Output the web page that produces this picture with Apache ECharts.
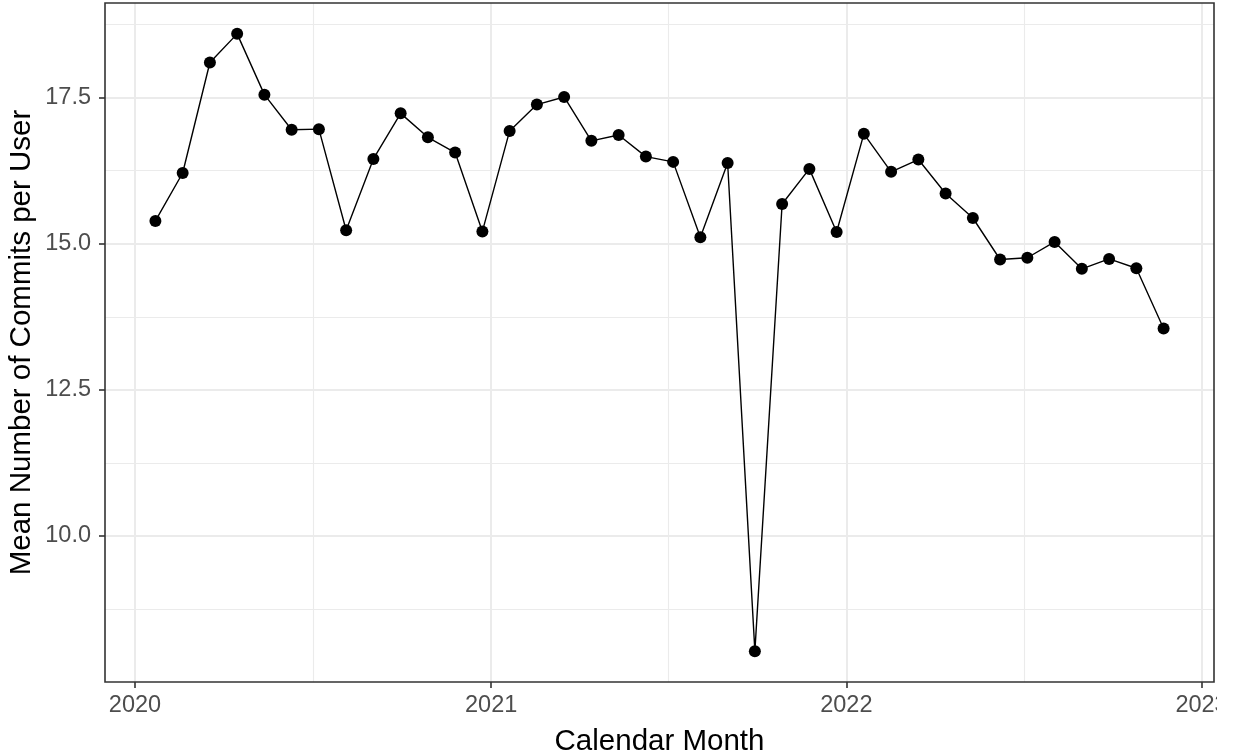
<!DOCTYPE html>
<html>
<head>
<meta charset="utf-8">
<script src="https://cdn.jsdelivr.net/npm/echarts@6/dist/echarts.min.js"></script>
<style>
html,body{margin:0;padding:0;background:#fff;}
#chart{width:1217px;height:753px;}
</style>
</head>
<body>
<div id="chart"></div>
<script>
// ---- data ----
const periodDates = [
  '2020-01-22','2020-02-19','2020-03-18','2020-04-15','2020-05-13','2020-06-10',
  '2020-07-08','2020-08-05','2020-09-02','2020-09-30','2020-10-28','2020-11-25',
  '2020-12-23','2021-01-20','2021-02-17','2021-03-17','2021-04-14','2021-05-12',
  '2021-06-09','2021-07-07','2021-08-04','2021-09-01','2021-09-29','2021-10-27',
  '2021-11-24','2021-12-22','2022-01-19','2022-02-16','2022-03-16','2022-04-13',
  '2022-05-11','2022-06-08','2022-07-06','2022-08-03','2022-08-31','2022-09-28',
  '2022-10-26','2022-11-23'
];
const meanCommits = [
  15.39,16.21,18.10,18.59,17.55,16.95,
  16.96,15.23,16.45,17.23,16.82,16.56,
  15.21,16.93,17.38,17.51,16.76,16.86,
  16.49,16.40,15.11,16.38,8.03,15.68,
  16.28,15.20,16.88,16.23,16.44,15.86,
  15.44,14.73,14.76,15.03,14.57,14.74,
  14.58,13.55
];
const xTickDates = ['2020-01-01','2021-01-01','2022-01-01','2023-01-01'];
const xMinorDates = ['2020-07-02T00:00:00Z','2021-07-02T12:00:00Z','2022-07-02T12:00:00Z'];
const yTicks = [10, 12.5, 15, 17.5];
const yMinor = [8.75, 11.25, 13.75, 16.25, 18.75];

// ---- scales (ggplot-like 5% expansion) ----
const xs = periodDates.map(d => Date.parse(d));
const xr = Math.max(...xs) - Math.min(...xs);
const xMin = Math.min(...xs) - 0.05 * xr;
const xMax = Math.max(...xs) + 0.05 * xr;
const yr = Math.max(...meanCommits) - Math.min(...meanCommits);
const yMin = Math.min(...meanCommits) - 0.05 * yr;
const yMax = Math.max(...meanCommits) + 0.05 * yr;

const xTickTs = xTickDates.map(d => Date.parse(d));
const xMinorTs = xMinorDates.map(d => Date.parse(d));

const GRID = '#EBEBEB';
const gridLines = [];
xTickTs.forEach(t => gridLines.push({xAxis: t, lineStyle: {color: GRID, width: 2, type: 'solid'}}));
xMinorTs.forEach(t => gridLines.push({xAxis: t, lineStyle: {color: GRID, width: 1.1, type: 'solid'}}));
yTicks.forEach(v => gridLines.push({yAxis: v, lineStyle: {color: GRID, width: 2, type: 'solid'}}));
yMinor.forEach(v => gridLines.push({yAxis: v, lineStyle: {color: GRID, width: 1.1, type: 'solid'}}));

const FONT = '"Liberation Sans", Arial, Helvetica, sans-serif';

const chart = echarts.init(document.getElementById('chart'), null, {renderer: 'canvas'});
chart.setOption({
  animation: false,
  backgroundColor: '#fff',
  textStyle: {fontFamily: FONT},
  grid: {
    left: 105, right: 3, top: 3, bottom: 71,
    show: true, borderColor: '#333333', borderWidth: 1.6,
    backgroundColor: 'transparent', z: 5,
    containLabel: false,
    outerBoundsMode: 'none'
  },
  xAxis: {
    type: 'value',
    min: xMin, max: xMax,
    scale: true,
    axisLine: {show: false},
    splitLine: {show: false},
    axisTick: {show: true, length: 6, customValues: xTickTs,
      lineStyle: {color: '#333333', width: 1.6}},
    axisLabel: {
      customValues: xTickTs,
      formatter: v => String(new Date(v).getUTCFullYear()),
      color: '#4D4D4D', fontSize: 23.5, fontFamily: FONT, margin: 12,
      hideOverlap: false
    },
    name: 'Calendar Month',
    nameLocation: 'middle',
    nameGap: 45,
    nameMoveOverlap: false,
    nameTextStyle: {color: '#000', fontSize: 29.5, fontFamily: FONT}
  },
  yAxis: {
    type: 'value',
    min: yMin, max: yMax,
    axisLine: {show: false},
    splitLine: {show: false},
    axisTick: {show: true, length: 6, customValues: yTicks,
      lineStyle: {color: '#333333', width: 1.6}},
    axisLabel: {
      customValues: yTicks,
      formatter: v => Number(v).toFixed(1),
      color: '#4D4D4D', fontSize: 23.5, fontFamily: FONT, margin: 14
    },
    name: 'Mean Number of Commits per User',
    nameLocation: 'middle',
    nameGap: 68,
    nameMoveOverlap: false,
    nameTextStyle: {color: '#000', fontSize: 29.5, fontFamily: FONT}
  },
  series: [
    {
      name: 'grid',
      type: 'line',
      data: [],
      z: 1,
      silent: true,
      markLine: {
        z: 1,
        silent: true,
        symbol: ['none', 'none'],
        label: {show: false},
        animation: false,
        data: gridLines
      }
    },
    {
      name: 'mean',
      type: 'line',
      z: 10,
      data: xs.map((t, i) => [t, meanCommits[i]]),
      symbol: 'circle',
      symbolSize: 12,
      showAllSymbol: true,
      itemStyle: {color: '#000'},
      lineStyle: {color: '#000', width: 1.4},
      emphasis: {disabled: true}
    }
  ]
});
</script>
</body>
</html>
